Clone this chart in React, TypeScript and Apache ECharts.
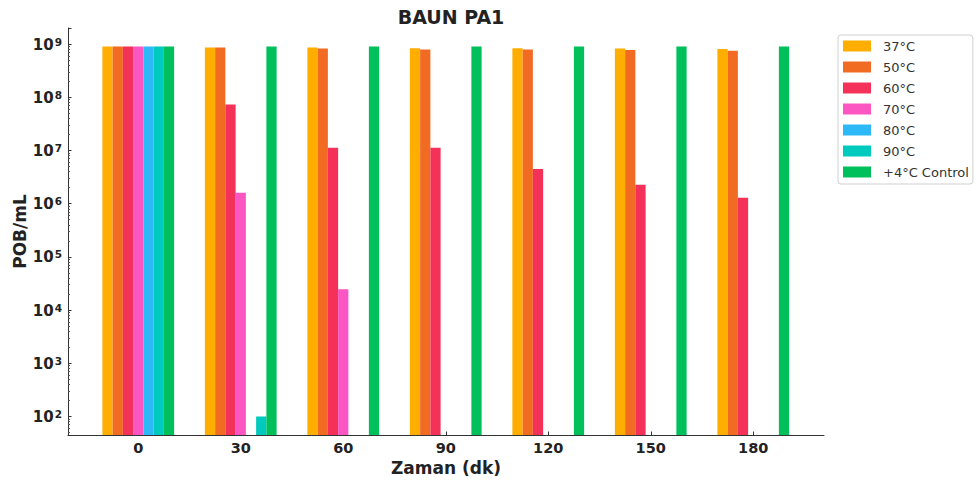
import React, { useEffect, useRef } from 'react';
import * as echarts from 'echarts';

// Sampling times (minutes)
const categories = ['0', '30', '60', '90', '120', '150', '180'];

// Series labels and colours
const seriesNames = ['37°C', '50°C', '60°C', '70°C', '80°C', '90°C', '+4°C Control'];
const seriesColors = ['#FFAE00', '#F26B22', '#F43259', '#FB56C2', '#2DB8F8', '#00C9BE', '#00C05B'];

// POB/mL counts per temperature (null = no growth)
const v37 = [9.0e8, 8.6e8, 8.6e8, 8.3e8, 8.3e8, 8.2e8, 8.1e8];
const v50 = [9.0e8, 8.6e8, 8.2e8, 7.9e8, 7.9e8, 7.7e8, 7.5e8];
const v60 = [9.0e8, 7.3e7, 1.12e7, 1.12e7, 4.5e6, 2.26e6, 1.29e6];
const v70 = [9.0e8, 1.6e6, 2.45e4, null, null, null, null];
const v80 = [9.0e8, null, null, null, null, null, null];
const v90 = [9.0e8, 100, null, null, null, null, null];
const vControl = [9.0e8, 9.0e8, 9.0e8, 9.0e8, 9.0e8, 9.0e8, 9.0e8];

const seriesData = [v37, v50, v60, v70, v80, v90, vControl];

// Log axis range
const Y_MIN = 44.9;
const Y_MAX = 2.0e9;

const FONT = 'DejaVu Sans';
const INK = '#222';

// "10" with the exponent set as a raised, smaller token
const powLabel = (v: number) => {
  const e = Math.round(Math.log10(v));
  return `{b|10}{s|${e}}`;
};

export default function App() {
  const ref = useRef<HTMLDivElement>(null);

  useEffect(() => {
    if (!ref.current) return;
    const chart = echarts.init(ref.current, undefined, { renderer: 'svg' });

    const option: any = {
      animation: false,
      backgroundColor: '#fff',
      title: {
        text: 'BAUN PA1',
        left: 446,
        top: 2,
        textAlign: 'center',
        textStyle: { fontFamily: FONT, fontSize: 19, fontWeight: 'bold', color: INK },
      },
      legend: {
        orient: 'vertical',
        left: 838,
        top: 35,
        data: seriesNames,
        icon: 'rect',
        itemWidth: 28,
        itemHeight: 11,
        itemGap: 7,
        padding: [4, 4, 5, 5],
        borderColor: '#d0d0d0',
        borderWidth: 1,
        borderRadius: 3,
        backgroundColor: '#fff',
        textStyle: { fontFamily: FONT, fontSize: 13, color: '#333', lineHeight: 14, padding: [0, 0, 0, 7] },
      },
      grid: [
        { left: 68, right: 154, top: 28, bottom: 47 },
        { left: 87, right: 173.5, top: 28, bottom: 47 },
      ],
      xAxis: [
        {
          gridIndex: 0,
          type: 'value',
          min: 0,
          max: 1,
          axisLine: { show: true, onZero: false, lineStyle: { color: '#333', width: 1 } },
          axisTick: { show: false },
          axisLabel: { show: false },
          splitLine: { show: false },
          name: 'Zaman (dk)',
          nameLocation: 'middle',
          nameGap: 24,
          nameMoveOverlap: false,
          nameTextStyle: { fontFamily: FONT, fontSize: 17, fontWeight: 'bold', color: INK },
        },
        {
          gridIndex: 1,
          type: 'category',
          data: categories,
          axisLine: { show: false },
          axisTick: { show: true, inside: true, alignWithLabel: true, length: 3.5, lineStyle: { color: '#333' } },
          axisLabel: { margin: 5, fontFamily: FONT, fontSize: 14.5, fontWeight: 'bold', color: INK },
          splitLine: { show: false },
        },
      ],
      yAxis: [
        {
          gridIndex: 0,
          type: 'log',
          min: Y_MIN,
          max: Y_MAX,
          splitNumber: 8,
          axisLine: { show: true, onZero: false, lineStyle: { color: '#333', width: 1 } },
          axisTick: { show: true, inside: true, length: 3.5, lineStyle: { color: '#333' } },
          minorTick: { show: true, splitNumber: 9, length: 2, lineStyle: { color: '#555' } },
          axisLabel: {
            margin: 6,
            showMinLabel: false,
            showMaxLabel: false,
            formatter: (v: number) => powLabel(v),
            rich: {
              b: { fontFamily: FONT, fontSize: 15, fontWeight: 'bold', color: INK, lineHeight: 16, verticalAlign: 'bottom' },
              s: { fontFamily: FONT, fontSize: 10.5, fontWeight: 'bold', color: INK, lineHeight: 10, verticalAlign: 'top', padding: [0, 0, 0, 1] },
            },
          },
          splitLine: { show: false },
          name: 'POB/mL',
          nameLocation: 'middle',
          nameGap: 40,
          nameMoveOverlap: false,
          nameTextStyle: { fontFamily: FONT, fontSize: 17, fontWeight: 'bold', color: INK },
        },
        {
          gridIndex: 1,
          type: 'log',
          min: Y_MIN,
          max: Y_MAX,
          startValue: Y_MIN,
          show: false,
          splitLine: { show: false },
        },
      ],
      series: seriesNames.map((name, i) => ({
        type: 'bar',
        name,
        xAxisIndex: 1,
        yAxisIndex: 1,
        data: seriesData[i],
        barWidth: '10%',
        barGap: '0%',
        clip: true,
        itemStyle: { color: seriesColors[i] },
      })),
    };

    chart.setOption(option);
    return () => chart.dispose();
  }, []);

  return <div ref={ref} style={{ position: 'fixed', left: 0, top: 0, width: 978, height: 482 }} />;
}
